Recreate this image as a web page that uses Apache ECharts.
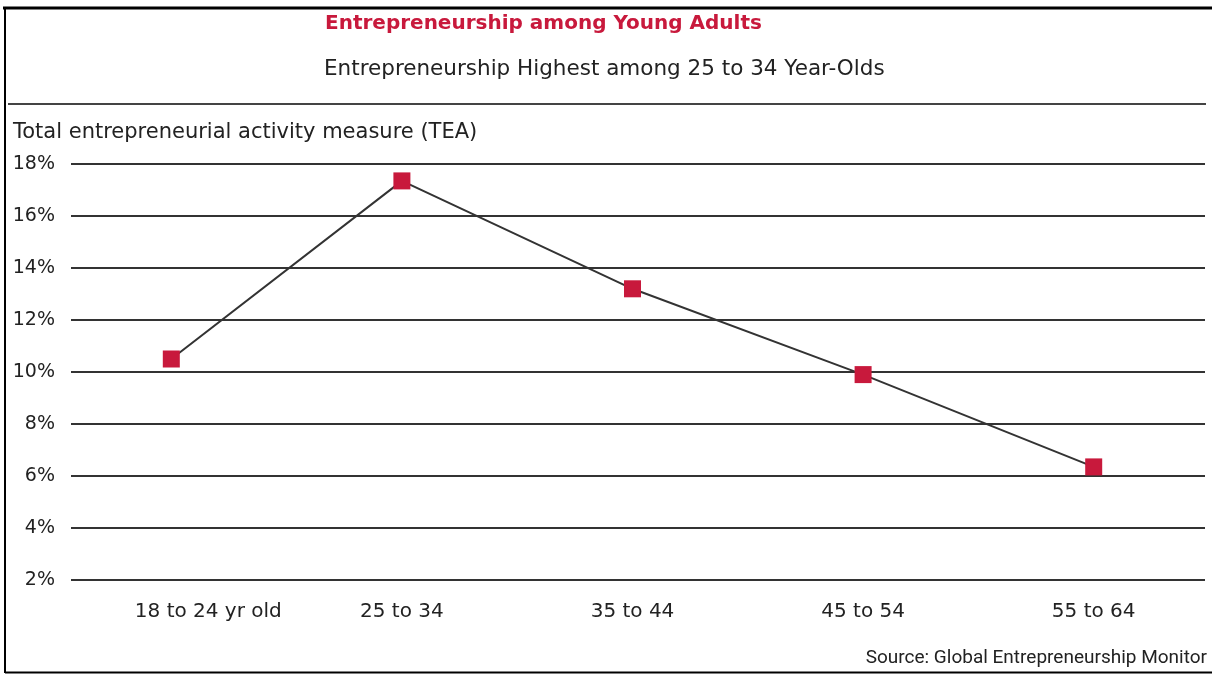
<!DOCTYPE html>
<html>
<head>
<meta charset="utf-8">
<script src="https://cdn.jsdelivr.net/npm/echarts@6/dist/echarts.min.js"></script>
<style>
html,body{margin:0;padding:0;background:#fff;}
#c{width:1212px;height:675px;}
</style>
</head>
<body>
<div id="c"></div>
<script>
var categories = ['18 to 24 yr old', '25 to 34', '35 to 44', '45 to 54', '55 to 64'];
var teaValues = [10.5, 17.35, 13.2, 9.9, 6.35];
var yTicks = [2, 4, 6, 8, 10, 12, 14, 16, 18];
var titleText = 'Entrepreneurship among Young Adults';
var subtitleText = 'Entrepreneurship Highest among 25 to 34 Year-Olds';
var yAxisName = 'Total entrepreneurial activity measure (TEA)';
var sourceText = 'Source: Global Entrepreneurship Monitor';

var FONT = '"DejaVu Sans", Roboto, sans-serif';
var FONT2 = 'Roboto, sans-serif';
var chart = echarts.init(document.getElementById('c'), null, {renderer: 'canvas'});
var option = {
  animation: false,
  backgroundColor: '#fff',
  title: [
    {text: titleText, left: 320, top: 9, textStyle: {color: '#c8193c', fontSize: 20, fontWeight: 'bold', fontFamily: FONT}},
    {text: subtitleText, left: 319, top: 53, textStyle: {color: '#222', fontSize: 21.5, fontWeight: 'normal', fontFamily: FONT}},
    {text: yAxisName, left: 8, top: 117, textStyle: {color: '#222', fontSize: 21, fontWeight: 'normal', fontFamily: FONT}},
    {text: sourceText, right: 0, top: 644, textStyle: {color: '#222', fontSize: 19, fontWeight: 'normal', fontFamily: FONT2}}
  ],
  grid: [
    {left: 71, right: 7, top: 164, bottom: 95},
    {left: 56, right: 3, top: 164, bottom: 95}
  ],
  xAxis: [
    {type: 'category', gridIndex: 0, data: categories, show: false},
    {type: 'category', gridIndex: 1, data: categories, boundaryGap: true,
     axisLine: {show: false}, axisTick: {show: false},
     axisLabel: {interval: 0, hideOverlap: false, color: '#222', fontSize: 20, fontFamily: FONT, margin: 22,
       formatter: function (v, i) { return i === 0 ? '{first|' + v + '}' : v; },
       rich: {first: {fontSize: 20, fontFamily: FONT, color: '#222', padding: [0, 0, 0, 74]}}}}
  ],
  yAxis: [
    {type: 'value', gridIndex: 0, min: yTicks[0], max: yTicks[yTicks.length - 1], interval: 2,
     axisLine: {show: false}, axisTick: {show: false},
     axisLabel: {color: '#222', fontSize: 19, fontFamily: FONT, margin: 16, formatter: '{value}%'},
     splitLine: {show: true, lineStyle: {color: '#333', width: 2}}},
    {type: 'value', gridIndex: 1, min: yTicks[0], max: yTicks[yTicks.length - 1], interval: 2,
     show: false, splitLine: {show: false}}
  ],
  series: [{
    type: 'line',
    xAxisIndex: 1, yAxisIndex: 1,
    data: teaValues,
    symbol: 'rect',
    symbolSize: 17,
    itemStyle: {color: '#c8193c'},
    lineStyle: {color: '#333', width: 2},
    z: 5
  }],
  graphic: [
    {type: 'line', shape: {x1: 3, y1: 8, x2: 1212, y2: 8}, style: {stroke: '#000', lineWidth: 3}},
    {type: 'line', shape: {x1: 5, y1: 8, x2: 5, y2: 673}, style: {stroke: '#000', lineWidth: 2}},
    {type: 'line', shape: {x1: 5, y1: 672.5, x2: 1212, y2: 672.5}, style: {stroke: '#000', lineWidth: 2}},
    {type: 'line', shape: {x1: 8, y1: 104, x2: 1206, y2: 104}, style: {stroke: '#444', lineWidth: 2}}
  ]
};
chart.setOption(option);
</script>
</body>
</html>
